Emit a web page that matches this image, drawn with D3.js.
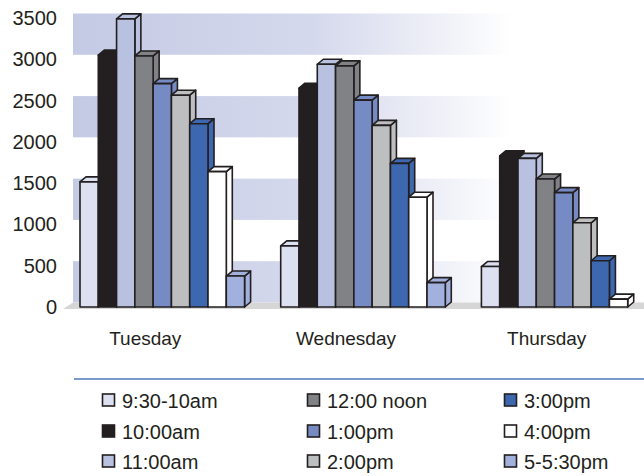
<!DOCTYPE html>
<html>
<head>
<meta charset="utf-8">
<script src="https://cdn.jsdelivr.net/npm/d3@7"></script>
<style>
  html, body { margin: 0; padding: 0; background: #ffffff; }
  svg { display: block; }
  text { font-family: "Liberation Sans", Arial, sans-serif; fill: #231f20; }
</style>
</head>
<body>
<svg id="chart" width="644" height="476"></svg>
<script>
// ---- data ----
const categories = ["Tuesday", "Wednesday", "Thursday"];
const seriesNames = ["9:30-10am", "10:00am", "11:00am", "12:00 noon", "1:00pm", "2:00pm", "3:00pm", "4:00pm", "5-5:30pm"];
const seriesColors = ["#dde0f0", "#231f20", "#b8c2e0", "#808285", "#768bc4", "#bcbec0", "#3d67ae", "#ffffff", "#a1b0dc"];
const tuesday   = [1515, 3050, 3490, 3040, 2705, 2565, 2220, 1640, 375];
const wednesday = [740, 2650, 2940, 2920, 2505, 2200, 1740, 1330, 295];
const thursday  = [490, 1830, 1800, 1550, 1385, 1020, 560, 95, null];
const yTicks = [0, 500, 1000, 1500, 2000, 2500, 3000, 3500];
const bandStarts = [0, 1000, 2000, 3000];

const dayValues = [tuesday, wednesday, thursday];

// ---- layout ----
const svg = d3.select("#chart");
const depthX = 6, depthY = 5;      // bar depth
const wallX = 8, wallY = 4.5;      // back wall offset

const y = d3.scaleLinear().domain([0, 3500]).range([307, 18]);
const yBack = v => y(v) - wallY;

const x0 = d3.scaleBand().domain(categories).range([80, 646]).paddingInner(0.18).paddingOuter(0);
const x1 = d3.scaleBand().domain(d3.range(seriesNames.length)).range([0, x0.bandwidth()]).padding(0);

// gradient for back-wall bands
const defs = svg.append("defs");
const grad = defs.append("linearGradient").attr("id", "bandGrad")
  .attr("gradientUnits", "userSpaceOnUse").attr("x1", 73).attr("x2", 512).attr("y1", 0).attr("y2", 0);
[[0, "#c4cae4"], [0.55, "#d5d9ed"], [0.75, "#e7e9f4"], [1, "#ffffff"]].forEach(s =>
  grad.append("stop").attr("offset", s[0]).attr("stop-color", s[1]));

// back wall bands
svg.append("g").selectAll("rect").data(bandStarts).join("rect")
  .attr("x", 80 - wallX + 1)
  .attr("width", 644 - (80 - wallX + 1))
  .attr("y", d => yBack(d + 500))
  .attr("height", d => yBack(d) - yBack(d + 500))
  .attr("fill", "url(#bandGrad)");

// floor
const fl = 80 - 17;
svg.append("path")
  .attr("d", `M${fl},${y(0) + 2} L${fl + wallX + 2},${yBack(0)} L644,${yBack(0)} L644,${y(0) + 2} Z`)
  .attr("fill", "#d6d6d6");

// bars
const barLayer = svg.append("g")
  .attr("stroke", "#231f20").attr("stroke-width", 1.6).attr("stroke-linejoin", "round");

categories.forEach((cat, ci) => {
  const vals = dayValues[ci];
  vals.forEach((v, si) => {
    if (v == null) return;
    const x = x0(cat) + x1(si);
    const w = x1.bandwidth();
    const yt = y(v), yb = y(0);
    const g = barLayer.append("g").attr("fill", seriesColors[si]);
    g.append("path").attr("d",
      `M${x + w},${yt} L${x + w + depthX},${yt - depthY} L${x + w + depthX},${yb - depthY} L${x + w},${yb} Z`);
    g.append("path").attr("d",
      `M${x},${yt} L${x + depthX},${yt - depthY} L${x + w + depthX},${yt - depthY} L${x + w},${yt} Z`);
    g.append("rect").attr("x", x).attr("y", yt).attr("width", w).attr("height", yb - yt);
  });
});

// y-axis labels
svg.append("g").selectAll("text").data(yTicks).join("text")
  .attr("x", 57).attr("y", d => y(d) + 7)
  .attr("text-anchor", "end").attr("font-size", 20)
  .text(d => d);

// category labels
svg.append("g").selectAll("text").data(categories).join("text")
  .attr("x", d => x0(d) + x0.bandwidth() / 2 - 17)
  .attr("y", 345)
  .attr("text-anchor", "middle").attr("font-size", 19)
  .text(d => d);

// legend separator
svg.append("line").attr("x1", 74).attr("x2", 644).attr("y1", 379).attr("y2", 379)
  .attr("stroke", "#4b7bb8").attr("stroke-width", 1.6);

// legend
const colX = [102, 307, 504];
const rowY = [408, 439, 469];
const leg = svg.append("g").selectAll("g").data(seriesNames).join("g")
  .attr("transform", (d, i) => `translate(${colX[Math.floor(i / 3)]},${rowY[i % 3]})`);
leg.append("rect").attr("x", 0.5).attr("y", -14).attr("width", 12).attr("height", 12)
  .attr("fill", (d, i) => seriesColors[i]).attr("stroke", "#231f20").attr("stroke-width", 1.6);
leg.append("text").attr("x", 20).attr("y", 0).attr("font-size", 20).text(d => d);
</script>
</body>
</html>
